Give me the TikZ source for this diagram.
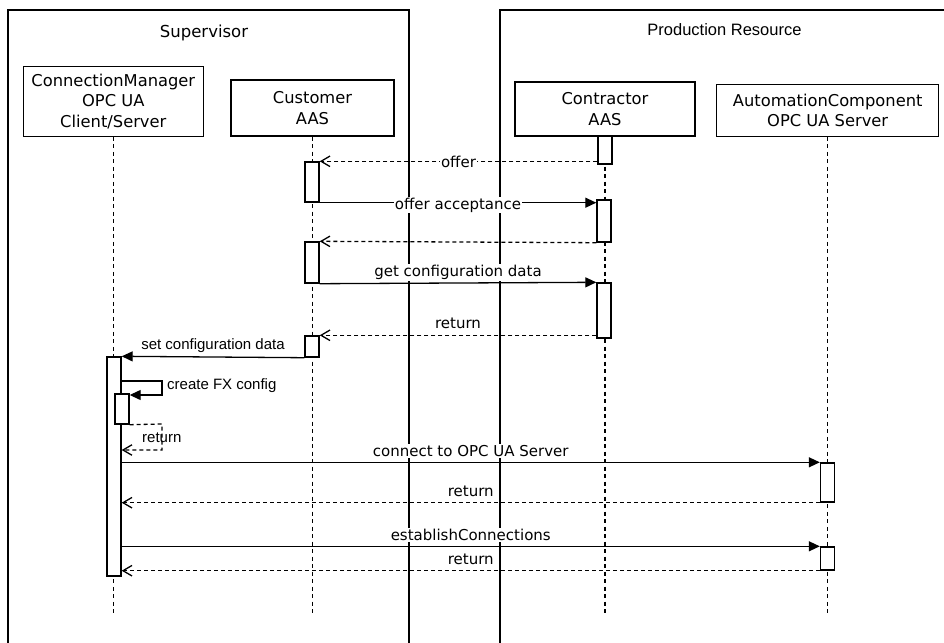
\documentclass[tikz,border=0pt]{standalone}
\usepackage{fontspec}
\newfontfamily\dvsans{DejaVu Sans}
\newfontfamily\lsans{Liberation Sans}
\usetikzlibrary{arrows.meta}

\begin{document}
\begin{tikzpicture}[x=1pt,y=-1pt,
  frame/.style={line width=1.5pt},
  head/.style={draw, line width=1.4pt, align=center, inner sep=0pt,
    font=\dvsans\fontsize{16.3}{20.5}\selectfont},
  bar/.style={draw, fill=white, line width=1.4pt, minimum width=14pt, inner sep=0pt},
  life/.style={line width=1.2pt, dash pattern=on 4pt off 3.5pt},
  msg/.style={line width=1.3pt, -{Triangle[length=11pt,width=10pt]}},
  ret/.style={line width=1.3pt, dash pattern=on 4pt off 3pt,
    -{Straight Barb[length=9pt,width=10.5pt]}},
  lbl/.style={fill=white, inner sep=1pt, anchor=base,
    font=\dvsans\fontsize{15}{18}\selectfont},
  albl/.style={inner sep=0pt, anchor=base, font=\lsans\fontsize{15}{18}\selectfont},
]
\useasboundingbox (0,0) rectangle (944,642);

% system boundaries
\draw[frame] (8,660) -- (8,10) -- (409,10) -- (409,660);
\draw[frame] (500,660) -- (500,10) -- (960,10);
\node[anchor=base, inner sep=0pt, font=\dvsans\fontsize{16.5}{20}\selectfont]
  (suplbl) at (204,37.3) {Supervisor};
\node[anchor=base, inner sep=0pt, font=\lsans\fontsize{16.5}{20}\selectfont]
  (prlbl) at (724.5,35.7) {Production Resource};

% lifeline heads
\node[head, minimum width=180pt, minimum height=70pt] (cmh) at (113.3,101.2)
  {ConnectionManager\\OPC UA\\Client/Server};
\node[head, minimum width=163pt, minimum height=56pt] (cush) at (312.5,108)
  {Customer\\AAS};
\node[head, minimum width=180pt, minimum height=54pt] (ctrh) at (605,109)
  {Contractor\\AAS};
\node[head, minimum width=222pt, minimum height=52pt] (ach) at (827.7,110.2)
  {AutomationComponent\\OPC UA Server};

% lifelines
\coordinate (lend) at (0,616);
\draw[life] (cmh.south) -- (cmh.south |- lend);
\draw[life] (cush.south) -- (cush.south |- lend);
\draw[life] (ctrh.south) -- (ctrh.south |- lend);
\draw[life] (ach.south) -- (ach.south |- lend);

% activation bars
\node[bar, minimum height=28pt]  (ctr1) at (605,150) {};
\node[bar, minimum height=40pt]  (cus1) at (312,182) {};
\node[bar, minimum height=42pt]  (ctr2) at (604,221) {};
\node[bar, minimum height=41pt]  (cus2) at (312,262.5) {};
\node[bar, minimum height=55pt]  (ctr3) at (604,310.5) {};
\node[bar, minimum height=21pt]  (cus3) at (312,346.5) {};
\node[bar, minimum height=219pt] (cm)   at (114,466.5) {};
\node[bar, minimum height=30pt]  (nest) at (122,409) {};
\node[bar, minimum height=39pt]  (ac1)  at (827.5,482.5) {};
\node[bar, minimum height=23pt]  (ac2)  at (827.5,558.5) {};

% messages between the AAS
\draw[ret] (ctr1.west |- cus1.north) -- (cus1.north east)
  node[midway, lbl, yshift=-6pt] {offer};
\draw[msg] (cus1.south east) -- (ctr2.west |- cus1.south)
  node[midway, lbl, yshift=-6.5pt] {offer acceptance};
\draw[ret] (ctr2.south west) -- (cus2.north east);
\draw[msg] (cus2.south east) -- (ctr3.north west)
  node[midway, lbl, yshift=6.5pt] {get configuration data};
\draw[ret] (ctr3.west |- cus3.north) -- (cus3.north east)
  node[midway, lbl, yshift=6.5pt] {return};
\draw[msg] (cus3.south west) -- (cm.north east)
  node[midway, albl, yshift=7.5pt] {set configuration data};

% self call of the connection manager
\coordinate (s1) at (162,381);
\coordinate (s2) at (162,395);
\draw[msg] (cm.east |- s1) -- (s1) -- (s2) -- (nest.east |- s2);
\node[albl, anchor=base west] (cfx) at (167,389) {create FX config};
\coordinate (r1) at (162,424);
\coordinate (r2) at (162,450);
\draw[ret] (nest.south east) -- (r1) -- (r2) -- (cm.east |- r2);
\node[albl, anchor=base west] (sret) at (142,442.3) {return};

% calls to the automation component
\draw[msg] (cm.east |- ac1.north) -- (ac1.north west)
  node[midway, lbl, yshift=6pt] {connect to OPC UA Server};
\draw[ret] (ac1.south west) -- (cm.east |- ac1.south)
  node[midway, lbl, yshift=6pt] {return};
\draw[msg] (cm.east |- ac2.north) -- (ac2.north west)
  node[midway, lbl, yshift=6pt] {establishConnections};
\draw[ret] (ac2.south west) -- (cm.east |- ac2.south)
  node[midway, lbl, yshift=6pt] {return};
\end{tikzpicture}
\end{document}
